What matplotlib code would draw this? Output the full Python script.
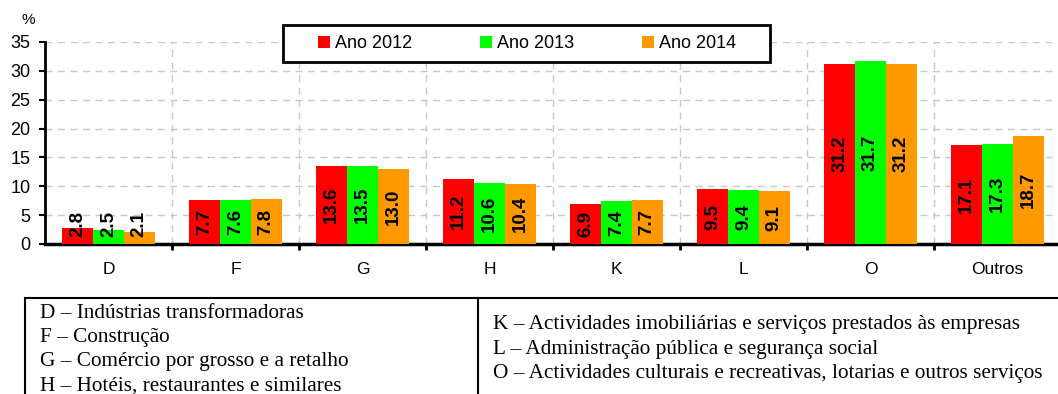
import numpy as np
import matplotlib.pyplot as plt
from matplotlib.lines import Line2D
from matplotlib.patches import Rectangle

categories = ['D', 'F', 'G', 'H', 'K', 'L', 'O', 'Outros']
ano_2012 = [2.8, 7.7, 13.6, 11.2, 6.9, 9.5, 31.2, 17.1]
ano_2013 = [2.5, 7.6, 13.5, 10.6, 7.4, 9.4, 31.7, 17.3]
ano_2014 = [2.1, 7.8, 13.0, 10.4, 7.7, 9.1, 31.2, 18.7]
series_names = ['Ano 2012', 'Ano 2013', 'Ano 2014']
colors = ['#FF0000', '#00FF00', '#FF9900']

legenda_esq = ['D – Indústrias transformadoras',
               'F – Construção',
               'G – Comércio por grosso e a retalho',
               'H – Hotéis, restaurantes e similares']
legenda_dir = ['K – Actividades imobiliárias e serviços prestados às empresas',
               'L – Administração pública e segurança social',
               'O – Actividades culturais e recreativas, lotarias e outros serviços']

W, H = 1058, 394
plt.rcParams['font.family'] = ['Liberation Sans', 'DejaVu Sans']
fig = plt.figure(figsize=(W / 100, H / 100), dpi=100)
ax = fig.add_axes([45 / W, 1 - 244 / H, (1061 - 45) / W, (244 - 42) / H])

x = np.arange(len(categories))
width = 0.242
for k, (vals, name, c) in enumerate(zip([ano_2012, ano_2013, ano_2014], series_names, colors)):
    pos = x + (k - 1) * width
    ax.bar(pos, vals, width, color=c, label=name, zorder=3)
    for p, v in zip(pos, vals):
        if v < 5:
            # label too long for the bar: stand it on the baseline
            ax.text(p, 1.2, f'{v:.1f}', rotation=90, ha='center', va='bottom',
                    fontsize=13.5, fontweight='bold', zorder=4)
        else:
            ax.text(p, v / 2, f'{v:.1f}', rotation=90, ha='center', va='center',
                    fontsize=13.5, fontweight='bold', zorder=4)

ax.set_xlim(-0.5, len(categories) - 0.5)
ax.set_ylim(0, 35)
ax.set_yticks(np.arange(0, 36, 5))
ax.set_xticks(x)
ax.set_xticklabels(categories)
ax.set_xticks(x[:-1] + 0.5, minor=True)
ax.tick_params(axis='x', which='major', length=0, pad=13, labelsize=12.5)
ax.tick_params(axis='x', which='minor', length=4.5, width=2, direction='out')
ax.tick_params(axis='y', length=4.5, width=1.5, labelsize=13, pad=6)

ax.grid(axis='y', which='major', color='#c8c8c8', linestyle=(0, (5, 4)), linewidth=1, zorder=0)
ax.grid(axis='x', which='minor', color='#c8c8c8', linestyle=(0, (5, 4)), linewidth=1, zorder=0)

for side in ['top', 'right']:
    ax.spines[side].set_visible(False)
ax.spines['left'].set_linewidth(2)
ax.spines['bottom'].set_linewidth(2.5)

fig.text(28 / W, 1 - 20 / H, '%', fontsize=11, ha='center', va='center')

# legend box drawn by hand so it can be wider than its entries
ax.add_patch(Rectangle((283 / W, 1 - 62 / H), (770 - 283) / W, (62 - 25) / H,
                       transform=fig.transFigure, facecolor='white', edgecolor='black',
                       linewidth=2, clip_on=False, zorder=5))
leg = ax.legend(loc='center', bbox_to_anchor=(527 / W, 1 - 43.5 / H),
                bbox_transform=fig.transFigure,
                ncol=3, frameon=False, fontsize=13,
                handlelength=0.65, handleheight=0.65, handletextpad=0.25,
                columnspacing=3.8, borderpad=0.3)
leg.set_zorder(6)

# caixa com a descrição dos sectores
y_top = 1 - 298 / H
fig.add_artist(Line2D([25 / W, 1], [y_top, y_top], color='black', linewidth=1.5))
fig.add_artist(Line2D([25 / W, 25 / W], [0, y_top], color='black', linewidth=1.5))
fig.add_artist(Line2D([478 / W, 478 / W], [0, y_top], color='black', linewidth=1.5))

for i, t in enumerate(legenda_esq):
    fig.text(40 / W, 1 - (313 + 24.3 * i) / H, t, fontsize=15.3, va='center',
             family=['Liberation Serif', 'DejaVu Serif'])
for i, t in enumerate(legenda_dir):
    fig.text(493 / W, 1 - (325 + 24.3 * i) / H, t, fontsize=15.3, va='center',
             family=['Liberation Serif', 'DejaVu Serif'])

fig.savefig('out.png', dpi=100)
